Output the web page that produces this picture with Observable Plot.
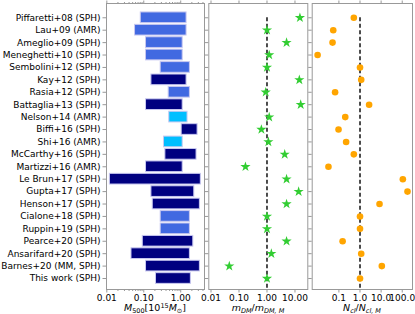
<!DOCTYPE html>
<html><head><meta charset="utf-8">
<script src="https://cdn.jsdelivr.net/npm/d3@7"></script>
<script src="https://cdn.jsdelivr.net/npm/@observablehq/plot@0.6"></script>
<style>
body{margin:0;background:#fff;}
#c{position:relative;width:415px;height:314px;overflow:hidden;font-family:"DejaVu Sans",sans-serif;background:#fff;}
#c svg{position:absolute;top:0;overflow:visible;}
.t{position:absolute;top:302.5px;font-size:9.5px;line-height:9px;white-space:nowrap;transform:translateX(-50%);font-family:"DejaVu Sans",sans-serif;color:#000;}
.t sub,.t sup{font-size:6.5px;line-height:0;vertical-align:baseline;position:relative;}
.t sub{top:2px;}
.t sup{top:-3px;}
</style></head><body><div id="c"></div>
<script>
const names = ["Piffaretti+08 (SPH)","Lau+09 (AMR)","Ameglio+09 (SPH)","Meneghetti+10 (SPH)","Sembolini+12 (SPH)","Kay+12 (SPH)","Rasia+12 (SPH)","Battaglia+13 (SPH)","Nelson+14 (AMR)","Biffi+16 (SPH)","Shi+16 (AMR)","McCarthy+16 (SPH)","Martizzi+16 (AMR)","Le Brun+17 (SPH)","Gupta+17 (SPH)","Henson+17 (SPH)","Cialone+18 (SPH)","Ruppin+19 (SPH)","Pearce+20 (SPH)","Ansarifard+20 (SPH)","Barnes+20 (MM, SPH)","This work (SPH)"];
const phys = ["NR","NR","NR","NR","NR","FP","NR","FP","AMR","FP","AMR","FP","FP","FP","FP","FP","NR","NR","FP","FP","FP","FP"];
const physKinds = ["NR","FP","AMR"];
const physColors = ["royalblue","navy","deepskyblue"];
const mLow  = [0.083,0.058,0.115,0.115,0.287,0.161,0.472,0.115,0.49,1.06,0.352,0.384,0.115,0.0121,0.161,0.175,0.287,0.287,0.094,0.0465,0.115,0.214];
const mHigh = [1.44,1.44,1.13,1.13,1.77,1.44,1.77,1.13,1.53,2.86,1.13,2.68,1.13,3.5,2.33,3.3,1.77,1.77,2.19,1.77,3.3,1.88];
const mdm = [15,1.0,5.0,1.2,1.0,14.3,0.9,16,1.2,0.63,1.12,4.3,0.17,5.0,13.5,5.0,1.0,1.0,5.0,1.43,0.045,1.0];
const ncl = [0.51,0.054,0.05,0.0098,1.0,1.14,0.066,2.7,0.2,0.096,0.22,0.51,0.032,107,178,8.4,1.0,1.0,0.15,1.14,10.8,1.0];
const ticksM = [0.01,0.1,1];
const minorM = [0.02,0.03,0.04,0.05,0.06,0.07,0.08,0.09,0.2,0.3,0.4,0.5,0.6,0.7,0.8,0.9,2,3,4];
const ticksD = [0.01,0.1,1,10];
const ticksN = [0.1,1,10,100];

const idx = d3.range(names.length);
const yScale = {type:"linear", domain:[-1.15, 21.885], reverse:true};
const st = {fontFamily:"DejaVu Sans", fontSize:"9px", color:"black", background:"transparent", overflow:"visible"};
const gray = "#999";
const H = 300, MT = 3, MB = 11;

const p1 = Plot.plot({
  width:206, height:H, marginLeft:106, marginRight:2, marginTop:MT, marginBottom:MB, style:st,
  x:{type:"log", domain:[0.0098,4.4]},
  y:yScale,
  color:{domain:physKinds, range:physColors},
  marks:[
    Plot.rect(idx, {x1:i=>mLow[i], x2:i=>mHigh[i], y1:i=>i-0.43, y2:i=>i+0.43, fill:i=>phys[i], stroke:"#c8c8f0", strokeWidth:1}),
    Plot.frame({stroke:gray}),
    Plot.axisY({ticks:idx, tickFormat:i=>names[i], tickSize:3.5, tickPadding:2.5, stroke:gray, label:null}),
    Plot.axisX({ticks:ticksM, tickFormat:d3.format(".2f"), tickSize:3.5, tickPadding:1.5, stroke:gray, label:null}),
    Plot.axisX({anchor:"top", ticks:ticksM, text:null, tickSize:3.5, stroke:gray, label:null}),
    Plot.axisX({ticks:minorM, text:null, tickSize:2, stroke:gray, label:null}),
    Plot.axisX({anchor:"top", ticks:minorM, text:null, tickSize:2, stroke:gray, label:null})
  ]
});
p1.style.left = "0px";

const p2 = Plot.plot({
  width:110, height:H, marginLeft:8.3, marginRight:2.7, marginTop:MT, marginBottom:MB, style:st,
  x:{type:"log", domain:[0.00834,28.7]},
  y:yScale,
  marks:[
    Plot.ruleX([1], {y1:0, y2:21.885, stroke:"black", strokeWidth:1.4, strokeDasharray:"4,2.5"}),
    Plot.dot(idx, {x:i=>mdm[i], y:i=>i, symbol:"star", fill:"limegreen", r:3.2}),
    Plot.frame({stroke:gray}),
    Plot.axisY({ticks:idx, text:null, tickSize:3.5, stroke:gray, label:null}),
    Plot.axisX({ticks:ticksD, tickFormat:d3.format(".2f"), tickSize:3.5, tickPadding:1.5, stroke:gray, label:null}),
    Plot.axisX({anchor:"top", ticks:ticksD, text:null, tickSize:3.5, stroke:gray, label:null})
  ]
});
p2.style.left = "200px";

const p3 = Plot.plot({
  width:110, height:H, marginLeft:6.7, marginRight:3, marginTop:MT, marginBottom:MB, style:st,
  x:{type:"log", domain:[0.00543,307]},
  y:yScale,
  marks:[
    Plot.ruleX([1], {y1:0, y2:21.885, stroke:"black", strokeWidth:1.4, strokeDasharray:"4,2.5"}),
    Plot.dot(idx, {x:i=>ncl[i], y:i=>i, fill:"orange", r:3.3}),
    Plot.frame({stroke:gray}),
    Plot.axisY({ticks:idx, text:null, tickSize:3.5, stroke:gray, label:null}),
    Plot.axisX({ticks:ticksN, tickFormat:d3.format(".1f"), tickSize:3.5, tickPadding:1.5, stroke:gray, label:null}),
    Plot.axisX({anchor:"top", ticks:ticksN, text:null, tickSize:3.5, stroke:gray, label:null})
  ]
});
p3.style.left = "305px";

const c = document.getElementById("c");
c.append(p1, p2, p3);
const titles = [
  {x:155, html:"<i>M</i><sub>500</sub>[10<sup>15</sup><i>M</i><sub>⊙</sub>]"},
  {x:258, html:"<i>m<sub>DM</sub></i>/<i>m<sub>DM, M</sub></i>"},
  {x:362, html:"<i>N<sub>cl</sub></i>/<i>N<sub>cl, M</sub></i>"}
];
for (const t of titles) {
  const d = document.createElement("div");
  d.className = "t"; d.style.left = t.x + "px"; d.innerHTML = t.html;
  c.append(d);
}
</script></body></html>
